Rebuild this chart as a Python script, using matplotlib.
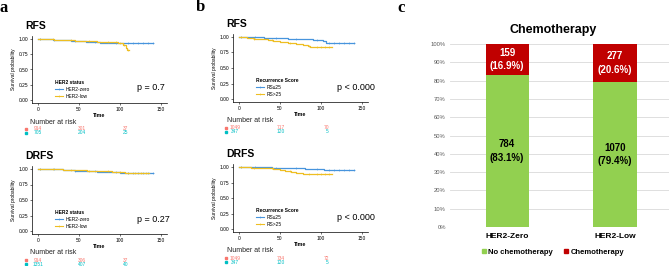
import matplotlib
matplotlib.use("Agg")
import matplotlib.pyplot as plt
from matplotlib.lines import Line2D
from matplotlib.patches import Patch
import numpy as np

plt.rcParams['font.family'] = ['Liberation Sans', 'DejaVu Sans']

W, H = 669, 266

# ---- Kaplan-Meier curves ----
# panel a: HER2 status
a_rfs_zero_t = [0, 8, 18, 28, 40, 50, 58, 66, 75, 85, 100, 140]
a_rfs_zero_s = [1.0, 0.995, 0.99, 0.985, 0.975, 0.965, 0.955, 0.948, 0.94, 0.935, 0.93, 0.93]
a_rfs_low_t = [0, 10, 20, 32, 45, 60, 72, 85, 98, 104, 107, 109, 111]
a_rfs_low_s = [1.0, 0.995, 0.99, 0.982, 0.975, 0.965, 0.958, 0.95, 0.94, 0.90, 0.86, 0.82, 0.82]
a_drfs_zero_t = [0, 15, 30, 45, 60, 72, 85, 100, 140]
a_drfs_zero_s = [1.0, 0.993, 0.985, 0.975, 0.962, 0.952, 0.945, 0.942, 0.942]
a_drfs_low_t = [0, 15, 30, 45, 60, 75, 90, 100, 106, 135]
a_drfs_low_s = [1.0, 0.995, 0.99, 0.982, 0.972, 0.962, 0.955, 0.95, 0.94, 0.94]

# panel b: Recurrence Score
b_rfs_lo_t = [0, 15, 30, 45, 60, 75, 90, 100, 103, 106, 140]
b_rfs_lo_s = [1.0, 0.995, 0.988, 0.98, 0.972, 0.965, 0.958, 0.955, 0.93, 0.91, 0.91]
b_rfs_hi_t = [0, 10, 18, 25, 35, 42, 50, 60, 70, 78, 84, 87, 113]
b_rfs_hi_s = [1.0, 0.99, 0.975, 0.96, 0.945, 0.93, 0.915, 0.905, 0.89, 0.875, 0.86, 0.84, 0.84]
b_drfs_lo_t = [0, 20, 40, 60, 80, 95, 104, 140]
b_drfs_lo_s = [1.0, 0.995, 0.99, 0.982, 0.975, 0.968, 0.95, 0.95]
b_drfs_hi_t = [0, 15, 30, 42, 50, 56, 63, 70, 78, 113]
b_drfs_hi_s = [1.0, 0.99, 0.98, 0.965, 0.95, 0.935, 0.92, 0.905, 0.895, 0.895]

cens_blue = [3, 20, 45, 70, 95, 110, 116, 122, 128, 134, 140]
cens_yellow = [2, 18, 40, 62, 85, 95, 100, 105, 110]
cens_yellow_long = [2, 18, 40, 62, 85, 100, 110, 118, 125, 132]

# number at risk tables
risk_times = [0, 50, 100]
a_rfs_risk = [[914, 301, 37], [705, 204, 25]]
a_drfs_risk = [[914, 306, 37], [1351, 407, 40]]
b_rfs_risk = [[1049, 717, 70], [347, 120, 5]]
b_drfs_risk = [[1049, 734, 72], [347, 120, 5]]

# panel c: chemotherapy
groups = ['HER2-Zero', 'HER2-Low']
no_chemo = np.array([784, 1070])
chemo = np.array([159, 277])

BLUE = '#4794DD'
YELLOW = '#EEBE22'
RISK_COLS = ['#F8766D', '#00BFC4']


def box(l, t, r, b):
    return [l / W, 1 - b / H, (r - l) / W, (b - t) / H]


def surv_at(t, ts, ss):
    i = np.searchsorted(ts, t, side='right') - 1
    return np.array(ss)[i]


def km_panel(x0, x150, y1, y0, title, curves, leg_title, leg_labels, pval, pxy):
    ppx = (x150 - x0) / 150.0
    ppy = (y0 - y1)
    ax = fig.add_axes(box(x0 - 7.5 * ppx, y1 - 0.05 * ppy, x150 + 7.5 * ppx, y0 + 0.05 * ppy))
    for ts, ss, col, cens in curves:
        ax.step(ts, ss, where='post', color=col, lw=0.9)
        ct = np.array([c for c in cens if c <= ts[-1]])
        ax.plot(ct, surv_at(ct, ts, ss), '+', color=col, ms=2, mew=0.4)
    ax.set_xlim(-7.5, 157.5)
    ax.set_ylim(-0.05, 1.05)
    ax.set_xticks([0, 50, 100, 150])
    ax.set_yticks([0, 0.25, 0.5, 0.75, 1.0])
    ax.set_yticklabels(['0.00', '0.25', '0.50', '0.75', '1.00'])
    ax.tick_params(labelsize=3.5, length=1.5, width=0.4, pad=1)
    for s in ['top', 'right']:
        ax.spines[s].set_visible(False)
    for s in ['left', 'bottom']:
        ax.spines[s].set_linewidth(0.5)
    ax.set_xlabel('Time', fontsize=3.8, fontweight='bold', labelpad=1)
    ax.set_ylabel('Survival probability', fontsize=3.5, labelpad=2)
    ax.patch.set_alpha(0)
    fig.text((x0 - 13) / W, 1 - (y1 - 13) / H, title, fontsize=7.5, fontweight='bold', va='center')
    handles = [Line2D([], [], color=c[2], lw=0.8, marker='+', ms=2, mew=0.4) for c in curves]
    leg = ax.legend(handles, leg_labels, title=leg_title, loc='upper left',
                    bbox_to_anchor=((x0 + 15) / W, 1 - (y1 + 39) / H),
                    bbox_transform=fig.transFigure, frameon=False, fontsize=3.5,
                    title_fontsize=3.5, handlelength=1.6, borderpad=0, labelspacing=0.35,
                    handletextpad=0.5, alignment='left')
    leg.get_title().set_fontweight('bold')
    fig.text(pxy[0] / W, 1 - pxy[1] / H, pval, fontsize=6.5, va='center')
    return ax


def risk_table(r0, r100, top, rows, key_x, risk):
    fig.text((r0 - 8) / W, 1 - top / H, 'Number at risk', fontsize=5, va='center', color='#222222')
    sc = (r100 - r0) / 100.0
    ax = fig.add_axes(box(r0, rows[0] - 2, r0 + 150 * sc, rows[1] + 2))
    ax.set_xlim(0, 150)
    ax.set_ylim(rows[1] + 2, rows[0] - 2)
    ax.axis('off')
    for k in range(2):
        for t, n in zip(risk_times, risk[k]):
            ax.text(t, rows[k], str(n), color=RISK_COLS[k], fontsize=3.5, ha='center', va='center')
        ax.plot([(key_x - r0) / sc], [rows[k]], 's', color=RISK_COLS[k], ms=2.0, clip_on=False)


fig = plt.figure(figsize=(W / 100, H / 100), dpi=100)

# panel labels
for lab, x, y in [('a', 4, 8), ('b', 200, 7), ('c', 401, 8)]:
    fig.text(x / W, 1 - y / H, lab, fontsize=12, fontweight='bold', family='Liberation Serif',
             va='center', ha='center')

her2_labels = ['HER2-zero', 'HER2-low']
rs_labels = ['RS\u226425', 'RS>25']

km_panel(38, 161, 39, 100, 'RFS',
         [(a_rfs_zero_t, a_rfs_zero_s, BLUE, cens_blue), (a_rfs_low_t, a_rfs_low_s, YELLOW, cens_yellow)],
         'HER2 status', her2_labels, 'p = 0.7', (137, 88))
risk_table(38, 126, 122, (129, 133), 26, a_rfs_risk)

km_panel(38, 161, 169, 231, 'DRFS',
         [(a_drfs_zero_t, a_drfs_zero_s, BLUE, cens_blue), (a_drfs_low_t, a_drfs_low_s, YELLOW, cens_yellow_long)],
         'HER2 status', her2_labels, 'p = 0.27', (137, 219))
risk_table(38, 126, 253, (260, 264), 26, a_drfs_risk)

km_panel(239, 362, 37, 99, 'RFS',
         [(b_rfs_lo_t, b_rfs_lo_s, BLUE, cens_blue), (b_rfs_hi_t, b_rfs_hi_s, YELLOW, cens_yellow)],
         'Recurrence Score', rs_labels, 'p < 0.000', (337, 87))
risk_table(235, 327, 120, (127.5, 131.5), 226, b_rfs_risk)

km_panel(239, 362, 167, 229, 'DRFS',
         [(b_drfs_lo_t, b_drfs_lo_s, BLUE, cens_blue), (b_drfs_hi_t, b_drfs_hi_s, YELLOW, cens_yellow)],
         'Recurrence Score', rs_labels, 'p < 0.000', (337, 217))
risk_table(235, 327, 251, (258, 262), 226, b_drfs_risk)

# ---- panel c ----
total = no_chemo + chemo
no_pct = no_chemo / total
ch_pct = chemo / total
x = np.arange(len(groups))

axc = fig.add_axes(box(450, 44, 669, 227))
GREEN = '#92D050'
RED = '#C00000'
axc.bar(x, no_pct, width=0.4, color=GREEN, zorder=3)
axc.bar(x, ch_pct, width=0.4, bottom=no_pct, color=RED, zorder=3)
for i in range(len(groups)):
    axc.text(x[i], no_pct[i] / 2, f'{no_chemo[i]}\n({no_pct[i] * 100:.1f}%)', ha='center', va='center',
             fontsize=7, fontweight='bold', color='black', linespacing=1.45, zorder=4)
    axc.text(x[i], no_pct[i] + ch_pct[i] / 2, f'{chemo[i]}\n({ch_pct[i] * 100:.1f}%)', ha='center',
             va='center', fontsize=7, fontweight='bold', color='white', linespacing=1.45, zorder=4)
axc.set_xlim(-0.53, 1.5)
axc.set_ylim(0, 1)
ticks = np.arange(0, 1.01, 0.1)
axc.set_yticks(ticks)
axc.set_yticklabels([f'{int(round(t * 100))}%' for t in ticks])
axc.set_xticks(x)
axc.set_xticklabels(groups, fontsize=6, fontweight='bold')
axc.tick_params(axis='y', labelsize=4.2, labelcolor='#595959', length=0, pad=3)
axc.tick_params(axis='x', length=0, pad=4)
axc.grid(axis='y', color='#D9D9D9', lw=0.6, zorder=0)
for s in axc.spines.values():
    s.set_visible(False)
axc.axhline(0, color='#D9D9D9', lw=0.6, zorder=1)
fig.text(553 / W, 1 - 30 / H, 'Chemotherapy', fontsize=9, fontweight='bold', ha='center', va='center')
fig.legend([Patch(color=GREEN), Patch(color=RED)], ['No chemotherapy', 'Chemotherapy'],
           loc='center', bbox_to_anchor=(553 / W, 1 - 252 / H), ncol=2, frameon=False,
           prop={'size': 5.5, 'weight': 'bold'}, handlelength=0.5, handleheight=0.5,
           handletextpad=0.3, columnspacing=1.5, borderpad=0)

fig.savefig('out.png', dpi=100)
